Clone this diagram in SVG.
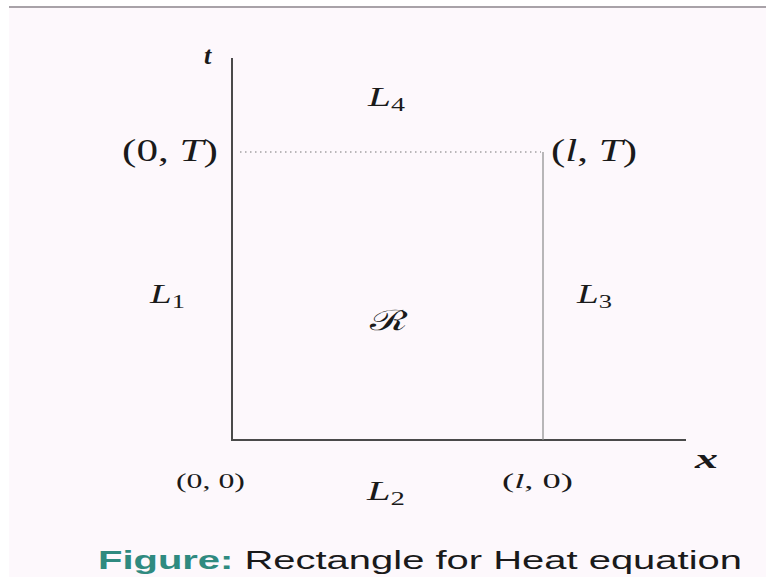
<svg xmlns="http://www.w3.org/2000/svg" width="766" height="577" viewBox="0 0 766 577">
<style>
.m{font-family:"Liberation Serif","DejaVu Serif",serif;fill:#1a1a1a}
.i{font-style:italic}
.b{font-weight:bold}
.cap{font-family:"Liberation Sans",Arial,sans-serif;font-size:26px;fill:#1a1a1a}
</style>
<rect x="0" y="0" width="766" height="577" fill="#ffffff"/>
<rect x="9" y="8" width="757" height="569" fill="#fdf8fc"/>
<line x1="9" y1="7" x2="766" y2="7" stroke="#a8a2a8" stroke-width="2"/>
<g id="connectors">
<line x1="232" y1="58" x2="232" y2="441" stroke="#4a4a4a" stroke-width="2"/>
<line x1="231" y1="440" x2="686" y2="440" stroke="#4a4a4a" stroke-width="2"/>
<line x1="543" y1="152" x2="543" y2="440" stroke="#8a8a8a" stroke-width="1.2"/>
<line x1="240" y1="152" x2="541" y2="152" stroke="#777" stroke-width="1" stroke-dasharray="1.5 3.5"/>
</g>
<g id="labels">
<text id="t" class="m i b" x="204" y="64" font-size="26">t</text>
<text class="m" x="122" y="161" font-size="31" textLength="96" lengthAdjust="spacingAndGlyphs">(0, <tspan class="i">T</tspan>)</text>
<text class="m" x="551" y="161" font-size="31" textLength="86" lengthAdjust="spacingAndGlyphs">(<tspan class="i">l</tspan>, <tspan class="i">T</tspan>)</text>
<text class="m" x="368" y="106" font-size="28" textLength="37" lengthAdjust="spacingAndGlyphs"><tspan class="i">L</tspan><tspan font-size="19" dy="5">4</tspan></text>
<text class="m" x="150" y="303" font-size="28" textLength="35" lengthAdjust="spacingAndGlyphs"><tspan class="i">L</tspan><tspan font-size="19" dy="5">1</tspan></text>
<text class="m" x="370" y="330" font-size="28" font-family="DejaVu Serif, DejaVu Sans, serif" textLength="37" lengthAdjust="spacingAndGlyphs">ℛ</text>
<text class="m" x="577" y="303" font-size="28" textLength="35" lengthAdjust="spacingAndGlyphs"><tspan class="i">L</tspan><tspan font-size="19" dy="5">3</tspan></text>
<text class="m i b" x="695" y="468" font-size="28" textLength="23" lengthAdjust="spacingAndGlyphs">x</text>
<text class="m" x="176" y="488" font-size="21" textLength="69" lengthAdjust="spacingAndGlyphs">(0, 0)</text>
<text class="m" x="367" y="500" font-size="28" textLength="38" lengthAdjust="spacingAndGlyphs"><tspan class="i">L</tspan><tspan font-size="19" dy="5">2</tspan></text>
<text class="m" x="502" y="488" font-size="21" textLength="71" lengthAdjust="spacingAndGlyphs">(<tspan class="i">l</tspan>, 0)</text>
<text class="cap" x="98" y="569" textLength="644" lengthAdjust="spacingAndGlyphs"><tspan fill="#2f8a80" font-weight="bold">Figure:</tspan> Rectangle for Heat equation</text>
</g>
</svg>
